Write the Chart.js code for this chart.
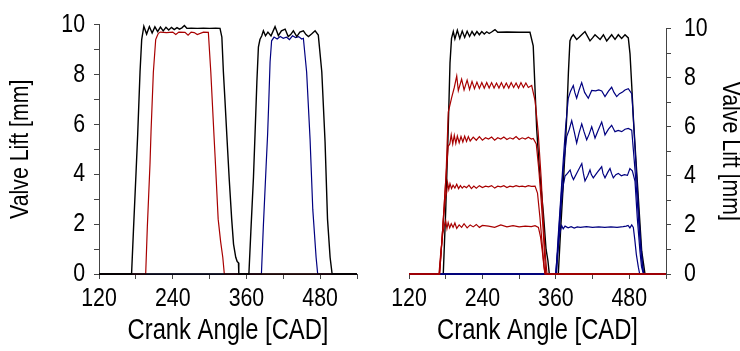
<!DOCTYPE html>
<html lang="en">
<head>
    <meta charset="UTF-8">
    <title>Valve Lift</title>
    <style>
        body { margin: 0; background: white; }
        #wrap { position: relative; width: 740px; height: 351px; }
        #leftChart { position: absolute; left: 0; top: 0; }
        #rightChart { position: absolute; left: 370px; top: 0; }
    </style>
    <script src="https://cdn.jsdelivr.net/npm/chart.js"></script>
</head>
<body>
    <div id="wrap">
        <canvas id="leftChart" width="370" height="351"></canvas>
        <canvas id="rightChart" width="370" height="351"></canvas>
    </div>

    <script>
        // axis ticks
        const xTicks = [120, 240, 360, 480];
        const yTicks = [0, 2, 4, 6, 8, 10];

        // left panel: full lift exhaust (black) + red, intake (black) + blue
        const leftExhBlackX = [120, 173, 176, 180, 183, 186.8, 189.5, 193, 197.5, 202, 206.5, 211, 215.5, 220, 224.5, 229, 233.5, 238, 242.5, 247, 251, 255, 259, 263, 270, 280, 290, 300, 310, 317, 320, 322.5, 325, 328, 332, 336, 339, 342.6, 345, 347, 347.6, 540];
        const leftExhBlackY = [0, 0, 1.7, 3.9, 5.6, 8.1, 9.4, 9.93, 9.62, 9.92, 9.66, 9.91, 9.72, 9.9, 9.75, 9.89, 9.78, 9.89, 9.8, 9.88, 9.82, 9.87, 9.96, 9.85, 9.86, 9.85, 9.86, 9.85, 9.86, 9.85, 9.5, 8.1, 7.0, 5.6, 3.8, 2.2, 1.2, 0.67, 0.5, 0.45, 0, 0];

        const leftExhRedX = [120, 196, 198.7, 203, 204.7, 208.5, 212.3, 214, 216.6, 220, 230, 240, 245, 250, 260, 265, 270, 275, 280, 290, 298, 302, 307.3, 309, 314, 318, 321.5, 324, 540];
        const leftExhRedY = [0, 0, 1.9, 4.4, 5.7, 8.1, 9.4, 9.5, 9.65, 9.7, 9.68, 9.7, 9.6, 9.7, 9.69, 9.58, 9.7, 9.68, 9.6, 9.7, 9.69, 8.1, 5.5, 4.7, 2.2, 1.3, 0.67, 0, 0];

        const leftIntBlackX = [120, 364, 367.2, 371.5, 374, 377, 379.5, 382, 385, 387.6, 391, 395, 400, 406.6, 412, 417, 423, 428, 432, 436.4, 442, 447, 452.7, 457, 461, 466, 471.8, 477, 482.7, 488, 492, 496.2, 499.5, 540];
        const leftIntBlackY = [0, 0, 1.7, 3.9, 5.6, 7.7, 9.1, 9.4, 9.55, 9.75, 9.55, 9.7, 9.55, 9.92, 9.56, 9.75, 9.82, 9.52, 9.6, 9.75, 9.52, 9.7, 9.75, 9.6, 9.52, 9.62, 9.75, 9.58, 8.1, 5.3, 2.2, 0.67, 0, 0];

        const leftIntBlueX = [120, 384.4, 387.6, 392, 394.5, 396.5, 398.5, 401, 405, 410, 415, 420, 425, 430, 435, 440, 445, 450, 452.7, 458, 463.6, 468, 473.4, 476, 540];
        const leftIntBlueY = [0, 0, 1.95, 4.3, 5.6, 7.0, 8.5, 9.35, 9.5, 9.42, 9.52, 9.45, 9.5, 9.4, 9.55, 9.48, 9.52, 9.42, 9.45, 8.1, 5.4, 2.6, 0.67, 0, 0];

        // right panel: exhaust (black + 4 red), intake (black + 4 blue)
        const rightExhBlackX = [120, 176, 180, 184, 187, 189.5, 192.4, 195, 199, 203, 207, 211, 215, 219, 223, 227, 231, 235, 239, 243, 247, 251, 255, 260.5, 265, 280, 300, 317.7, 323, 328.7, 333, 339.5, 344, 347, 349.3, 540];
        const rightExhBlackY = [0, 0, 2.6, 5.8, 8.6, 9.6, 9.88, 9.58, 9.93, 9.6, 9.9, 9.64, 9.89, 9.68, 9.88, 9.72, 9.88, 9.75, 9.88, 9.78, 9.87, 9.8, 9.86, 9.96, 9.85, 9.86, 9.85, 9.85, 9.3, 5.9, 4.3, 2.5, 1.0, 0.55, 0, 0];

        const redAX = [120, 170, 173.4, 177, 180.5, 184.2, 189.8, 194, 198, 200.6, 206, 210, 215, 219, 223, 227, 231, 235, 239, 243, 247, 251, 255, 259, 263, 267, 271, 275, 279, 283, 287, 291, 295, 299, 303, 307, 311, 315, 320.5, 326, 331, 336, 340, 343, 345.5, 540];
        const redAY = [0, 0, 1.2, 2.6, 4.0, 6.6, 7.2, 7.6, 8.07, 7.47, 7.94, 7.5, 7.9, 7.52, 7.85, 7.55, 7.82, 7.56, 7.8, 7.57, 7.8, 7.58, 7.8, 7.58, 7.78, 7.58, 7.8, 7.58, 7.78, 7.58, 7.8, 7.6, 7.78, 7.58, 7.8, 7.6, 7.78, 7.6, 7.68, 7.07, 5.8, 3.9, 1.9, 0.7, 0, 0];

        const redBX = [120, 170, 173.4, 177, 180.5, 184, 186.7, 189, 191.5, 194, 196.5, 199, 202, 205, 208, 211, 214, 217, 220, 225, 230, 235, 240, 245, 250, 255, 260, 265, 270, 275, 280, 285, 290, 295, 300, 305, 310, 315, 320, 323, 328, 332, 336, 339, 341.5, 343.5, 540];
        const redBY = [0, 0, 1.2, 2.6, 4.0, 5.2, 5.3, 5.67, 5.3, 5.65, 5.32, 5.62, 5.35, 5.6, 5.38, 5.62, 5.4, 5.6, 5.42, 5.58, 5.45, 5.6, 5.45, 5.55, 5.5, 5.58, 5.45, 5.55, 5.5, 5.58, 5.48, 5.55, 5.5, 5.6, 5.48, 5.55, 5.5, 5.57, 5.5, 5.52, 5.3, 4.3, 3.0, 1.9, 0.8, 0, 0];

        const redCX = [120, 169.5, 173, 176.5, 179.5, 181.5, 183, 185, 187, 189.5, 192, 195, 198, 201, 204, 207, 210, 214, 218, 222, 226, 230, 235, 240, 245, 250, 255, 260, 265, 270, 275, 280, 285, 290, 295, 300, 305, 310, 315, 320, 326, 330, 334, 337, 340, 342, 540];
        const redCY = [0, 0, 1.1, 2.3, 3.1, 3.3, 3.72, 3.45, 3.68, 3.48, 3.62, 3.5, 3.66, 3.48, 3.6, 3.5, 3.58, 3.52, 3.62, 3.48, 3.58, 3.5, 3.6, 3.52, 3.58, 3.55, 3.6, 3.5, 3.58, 3.55, 3.6, 3.52, 3.58, 3.55, 3.6, 3.56, 3.58, 3.55, 3.6, 3.57, 3.58, 3.3, 2.3, 1.4, 0.5, 0, 0];

        const redDX = [120, 169, 172, 175, 178, 180, 182, 184, 186.5, 189, 192, 195, 198, 202, 206, 210, 215, 220, 225, 230, 235, 240, 250, 260, 270, 280, 290, 300, 310, 320, 326, 331.5, 335, 338, 340.5, 342.5, 540];
        const redDY = [0, 0, 0.9, 1.6, 2.0, 2.17, 1.85, 2.1, 1.88, 2.05, 1.9, 2.08, 1.86, 2.0, 1.9, 2.05, 1.88, 2.0, 1.92, 2.02, 1.9, 1.98, 1.95, 1.9, 2.0, 1.92, 1.97, 1.92, 1.95, 1.93, 1.97, 1.9, 1.5, 0.9, 0.3, 0, 0];

        const rightIntBlackX = [120, 364, 368, 372, 375, 377.7, 380.5, 383, 385.5, 388.5, 394, 398, 402.2, 407.6, 415.8, 420, 424, 432.3, 437.7, 443.1, 451.2, 456.7, 462.1, 467.5, 473, 478.4, 481.2, 484, 487, 491, 494.8, 500.3, 505.7, 540];
        const rightIntBlackY = [0, 0, 1.9, 3.6, 5.0, 6.38, 8.2, 9.5, 9.65, 9.75, 9.56, 9.65, 9.75, 9.88, 9.5, 9.62, 9.75, 9.56, 9.75, 9.5, 9.75, 9.56, 9.75, 9.6, 9.75, 9.62, 8.97, 7.68, 6.2, 4.6, 3.1, 0.93, 0, 0];

        const blueAX = [120, 360, 364, 368, 372, 376, 380.3, 384, 388.5, 391, 394, 398, 402.2, 407, 413, 418.6, 425, 430, 435, 440.3, 446, 451.2, 455, 459.4, 464, 469, 473, 478.4, 484, 486.6, 489, 492, 495, 498, 501, 503.5, 540];
        const blueAY = [0, 0, 1.6, 3.1, 4.6, 6.0, 7.16, 7.45, 7.68, 7.4, 7.16, 7.5, 7.8, 7.4, 7.16, 7.48, 7.46, 7.5, 7.46, 7.23, 7.45, 7.61, 7.4, 7.23, 7.35, 7.42, 7.5, 7.55, 7.35, 6.38, 5.3, 4.0, 2.7, 1.5, 0.6, 0, 0];

        const blueBX = [120, 360.5, 364.5, 368.5, 372.5, 377.7, 382, 385.9, 390, 394, 398, 402.3, 406, 410.4, 414.5, 418.6, 421, 424, 429, 434.9, 438, 440.3, 446, 451.2, 456.6, 462, 467.6, 473, 478.4, 484, 486.6, 489.5, 493, 496, 499, 502, 504, 540];
        const blueBY = [0, 0, 1.6, 3.1, 4.4, 5.6, 5.9, 6.25, 5.8, 5.34, 5.75, 6.12, 5.8, 5.47, 5.7, 6.0, 5.8, 5.54, 5.85, 6.19, 5.9, 5.67, 5.9, 6.06, 5.8, 5.85, 5.8, 5.9, 5.93, 5.86, 5.08, 4.2, 3.0, 1.9, 0.9, 0.2, 0, 0];

        const blueCX = [120, 361, 365, 369, 372, 375, 379, 383.3, 386, 388.8, 395, 402.4, 405, 407.6, 412, 415.8, 418, 421.2, 428, 434.9, 437, 440.3, 445, 448.5, 451, 453.9, 458, 462, 467, 472, 477, 481, 485, 489.3, 493, 497.4, 500, 503, 540];
        const blueCY = [0, 0, 1.5, 2.9, 3.6, 3.99, 4.1, 4.24, 4.0, 3.85, 4.15, 4.5, 4.1, 3.79, 4.0, 4.24, 4.05, 3.92, 4.15, 4.37, 4.1, 3.92, 4.15, 4.3, 4.1, 3.92, 4.05, 4.1, 4.0, 4.05, 4.02, 4.3, 4.2, 3.79, 2.3, 0.93, 0.3, 0, 0];

        const blueDX = [120, 359.5, 362.5, 366, 369.5, 372, 375, 380, 385, 390, 395, 400, 410, 420, 430, 440, 450, 460, 470, 475, 478, 481, 484, 486.6, 489, 491.5, 494.8, 497, 540];
        const blueDY = [0, 0, 0.8, 1.6, 1.97, 1.84, 1.95, 1.88, 1.93, 1.87, 1.92, 1.9, 1.93, 1.9, 1.92, 1.9, 1.92, 1.9, 1.93, 1.95, 1.98, 1.88, 2.0, 1.9, 1.4, 0.8, 0.28, 0, 0];

        const BLACK = '#000000';
        const RED = '#a80000';
        const BLUE = '#000080';
        const FONT = "'Liberation Sans', Arial, sans-serif";
        const SQUEEZE = 0.82; // reference lettering is a narrow sans

        // no narrow face installed: squeeze text along its own baseline via fillText maxWidth
        const condense = {
            id: 'condense',
            beforeInit(chart) {
                const ctx = chart.ctx;
                const orig = ctx.fillText.bind(ctx);
                ctx.fillText = function (text, x, y, maxWidth) {
                    const w = ctx.measureText(text).width * SQUEEZE;
                    const mw = (maxWidth === undefined || maxWidth === null) ? w : Math.min(maxWidth, w);
                    orig(text, x, y, mw);
                };
            }
        };

        function pts(xs, ys) {
            return xs.map((x, i) => ({ x: x, y: ys[i] }));
        }

        function line(xs, ys, color, width) {
            return {
                data: pts(xs, ys),
                borderColor: color,
                borderWidth: width,
                pointRadius: 0,
                tension: 0,
                fill: false,
                clip: false
            };
        }

        function makeScales(side) {
            return {
                x: {
                    type: 'linear',
                    min: 120,
                    max: 540,
                    afterBuildTicks: s => { s.ticks = [120, 180, 240, 300, 360, 420, 480, 540].map(v => ({ value: v })); },
                    afterFit: s => { s.height = 77; },
                    grid: { drawOnChartArea: false, drawTicks: true, tickLength: 5, color: '#444' },
                    border: { display: true, color: '#444', width: 1 },
                    ticks: {
                        autoSkip: false, maxRotation: 0, padding: 4,
                        color: '#000', font: { family: FONT, size: 26 },
                        callback: v => xTicks.includes(v) ? String(v) : ''
                    },
                    title: {
                        display: true, text: 'Crank Angle [CAD]', color: '#000',
                        font: { family: FONT, size: 29, lineHeight: 1.0 }, padding: { top: 0, bottom: 6 }
                    }
                },
                y: {
                    position: side,
                    min: 0,
                    max: 10,
                    afterBuildTicks: s => { s.ticks = [0, 1, 2, 3, 4, 5, 6, 7, 8, 9, 10].map(v => ({ value: v })); },
                    afterFit: s => { s.width = side === 'left' ? 99 : 74; },
                    grid: { drawOnChartArea: false, drawTicks: true, tickLength: 5, color: '#444' },
                    border: { display: true, color: '#444', width: 1 },
                    ticks: {
                        autoSkip: false, padding: side === 'left' ? 9 : 13,
                        color: '#000', font: { family: FONT, size: 26 },
                        callback: v => yTicks.includes(v) ? String(v) : ''
                    },
                    title: {
                        display: true, text: 'Valve Lift [mm]', color: '#000',
                        font: { family: FONT, size: 26, lineHeight: 1.0 },
                        padding: { top: side === 'left' ? 8 : -3, bottom: 0 }
                    }
                }
            };
        }

        function baseOptions(side, padding) {
            return {
                responsive: false,
                animation: false,
                devicePixelRatio: 1,
                layout: { padding: padding },
                plugins: { legend: { display: false }, tooltip: { enabled: false } },
                scales: makeScales(side)
            };
        }

        new Chart(document.getElementById('leftChart'), {
            type: 'line',
            data: {
                datasets: [
                    line(leftExhBlackX, leftExhBlackY, BLACK, 1.4),
                    line(leftIntBlackX, leftIntBlackY, BLACK, 1.4),
                    line(leftExhRedX, leftExhRedY, RED, 1.2),
                    line(leftIntBlueX, leftIntBlueY, BLUE, 1.2)
                ]
            },
            options: baseOptions('left', { top: 16, right: 13, left: 0, bottom: 0 }),
            plugins: [condense]
        });

        new Chart(document.getElementById('rightChart'), {
            type: 'line',
            data: {
                datasets: [
                    line(redDX, redDY, RED, 1.2),
                    line(redCX, redCY, RED, 1.2),
                    line(redBX, redBY, RED, 1.2),
                    line(redAX, redAY, RED, 1.2),
                    line(blueDX, blueDY, BLUE, 1.2),
                    line(blueCX, blueCY, BLUE, 1.2),
                    line(blueBX, blueBY, BLUE, 1.2),
                    line(blueAX, blueAY, BLUE, 1.2),
                    line(rightExhBlackX, rightExhBlackY, BLACK, 1.4),
                    line(rightIntBlackX, rightIntBlackY, BLACK, 1.4)
                ]
            },
            options: baseOptions('right', { top: 16, right: 0, left: 39, bottom: 0 }),
            plugins: [condense]
        });
    </script>
</body>
</html>
